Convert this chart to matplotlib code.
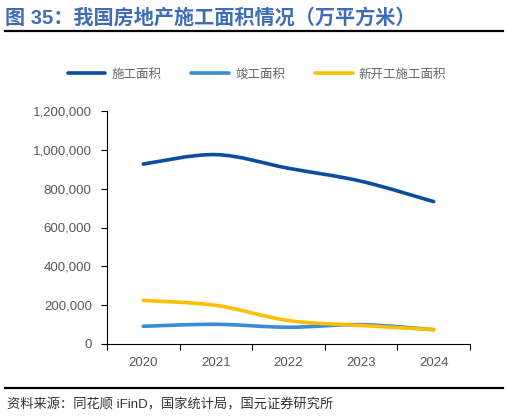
import numpy as np
import matplotlib
matplotlib.use("Agg")
import matplotlib.pyplot as plt
from matplotlib.path import Path
from matplotlib.patches import PathPatch
from matplotlib.lines import Line2D

plt.rcParams['font.family'] = ['Liberation Sans', 'Noto Sans CJK SC', 'DejaVu Sans']

years = ["2020", "2021", "2022", "2023", "2024"]
construction = [926759, 975387, 904999, 838364, 733247]   # 施工面积
completed = [91218, 101412, 86222, 99831, 73743]          # 竣工面积
new_starts = [224433, 198895, 120587, 95376, 73893]       # 新开工施工面积

names = ["施工面积", "竣工面积", "新开工施工面积"]
colors = ["#0D4DA1", "#3C8AD8", "#FFBE00"]


def smooth_path(x, y, t=1 / 6):
    # Catmull-Rom style bezier, like office "smoothed line"
    x = np.asarray(x, float)
    y = np.asarray(y, float)
    verts = [(x[0], y[0])]
    codes = [Path.MOVETO]
    n = len(x)
    for i in range(n - 1):
        p0 = i - 1 if i > 0 else i
        p3 = i + 2 if i + 2 < n else i + 1
        c1 = (x[i] + (x[i + 1] - x[p0]) * t, y[i] + (y[i + 1] - y[p0]) * t)
        c2 = (x[i + 1] - (x[p3] - x[i]) * t, y[i + 1] - (y[p3] - y[i]) * t)
        verts += [c1, c2, (x[i + 1], y[i + 1])]
        codes += [Path.CURVE4] * 3
    return Path(verts, codes)


fig = plt.figure(figsize=(5.09, 4.18), dpi=100)
ax = fig.add_axes([107 / 509, 1 - 344 / 418, 363 / 509, 233 / 418])

xs = np.arange(len(years))
for vals, c in zip([construction, completed, new_starts], colors):
    ax.add_patch(PathPatch(smooth_path(xs, vals), fill=False, edgecolor=c,
                           lw=2.6, capstyle='round', joinstyle='round'))

ax.set_xlim(-0.5, len(years) - 0.5)
ax.set_ylim(0, 1200000)
ax.set_yticks(np.arange(0, 1200001, 200000))
ax.set_yticklabels([f"{v:,}" for v in range(0, 1200001, 200000)])
ax.set_xticks(xs)
ax.set_xticklabels(years)
ax.set_xticks(np.arange(-0.5, len(years), 1), minor=True)
ax.tick_params(axis='x', which='major', length=0, pad=9, labelsize=9.5, labelcolor='#595959')
ax.tick_params(axis='x', which='minor', length=4, direction='out', color='black', width=0.8)
ax.tick_params(axis='y', length=4, direction='out', width=0.8, labelsize=9.5,
               labelcolor='#595959', pad=7)
for s in ['top', 'right']:
    ax.spines[s].set_visible(False)
for s in ['left', 'bottom']:
    ax.spines[s].set_linewidth(0.8)

handles = [Line2D([], [], color=c, lw=2.6, solid_capstyle='round') for c in colors]
leg = fig.legend(handles, names, loc='center', bbox_to_anchor=(0.505, 1 - 74 / 418),
                 ncol=3, frameon=False, handlelength=3.0,
                 columnspacing=2.4, handletextpad=0.5,
                 prop={'family': ['Noto Sans CJK SC'], 'size': 9})
for t in leg.get_texts():
    t.set_color('#666666')

fig.text(5 / 509, 1 - 18 / 418, "图 35：我国房地产施工面积情况（万平方米）",
         fontsize=14.5, fontweight='bold', color='#3F6DB5', va='center', ha='left')
fig.add_artist(Line2D([5 / 509, 503 / 509], [1 - 31 / 418, 1 - 31 / 418],
                      color='black', lw=1.6))
fig.add_artist(Line2D([5 / 509, 503 / 509], [1 - 388 / 418, 1 - 388 / 418],
                      color='black', lw=1.6))
fig.text(7 / 509, 1 - 405 / 418, "资料来源：同花顺 iFinD，国家统计局，国元证券研究所",
         fontsize=9.5, color='#333333', va='center', ha='left')

fig.savefig("out.png", dpi=100)
